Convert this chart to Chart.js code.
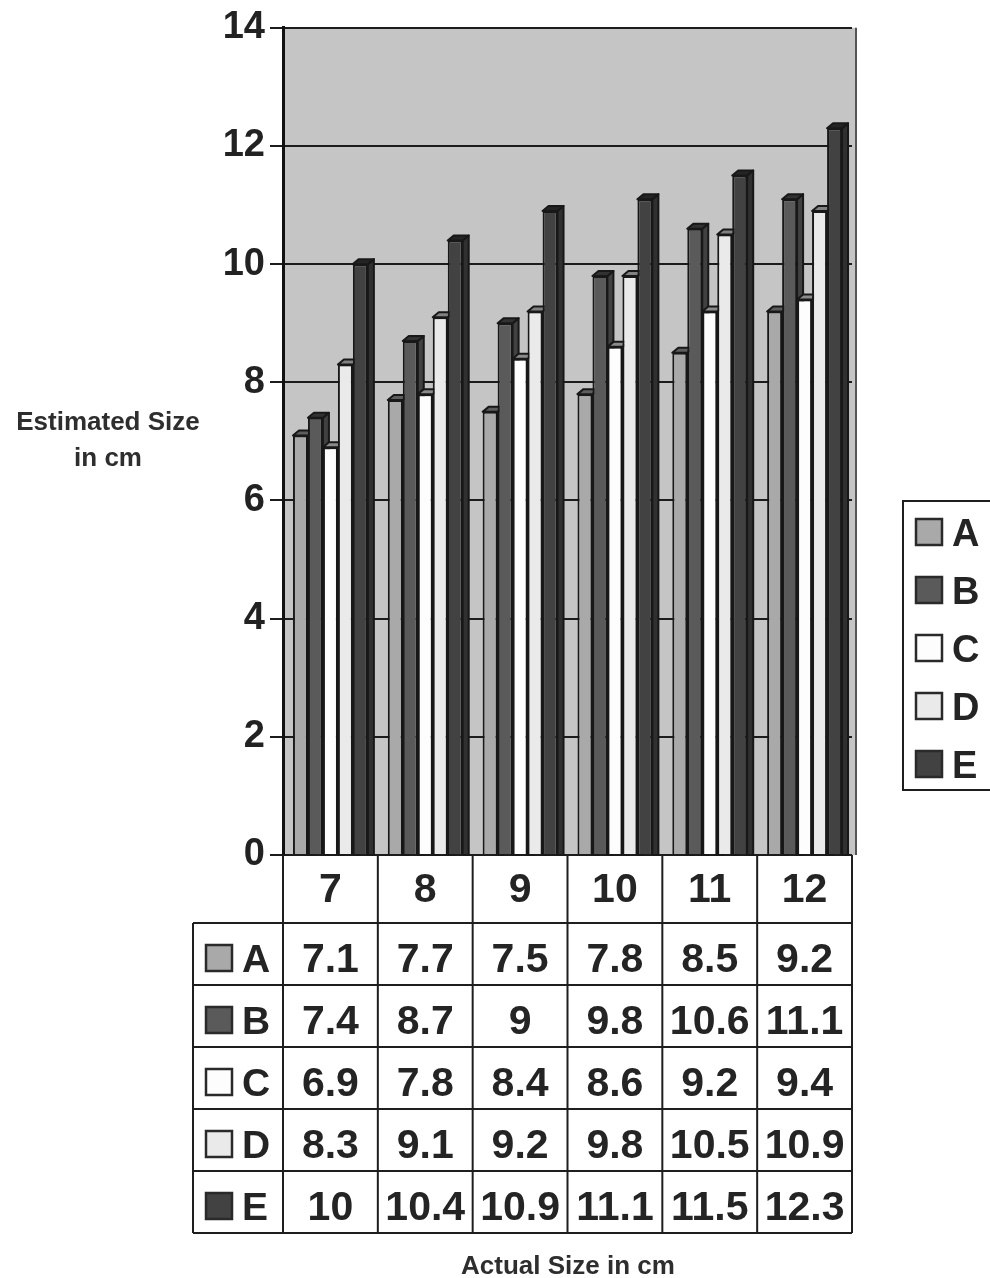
<!DOCTYPE html>
<html>
<head>
<meta charset="utf-8">
<script src="https://cdn.jsdelivr.net/npm/chart.js@4.4.1/dist/chart.umd.min.js"></script>
<style>
  html, body { margin: 0; padding: 0; background: #ffffff; }
  #wrap { width: 990px; height: 1278px; position: relative; }
</style>
</head>
<body>
<div id="wrap"><canvas id="chart" width="990" height="1278"></canvas></div>
<script>
// Actual sizes (cm) along the x axis
const categories = ['7', '8', '9', '10', '11', '12'];
// Series names
const seriesNames = ['A', 'B', 'C', 'D', 'E'];
// Estimated sizes (cm) per series
const seriesA = [7.1, 7.7, 7.5, 7.8, 8.5, 9.2];
const seriesB = [7.4, 8.7, 9, 9.8, 10.6, 11.1];
const seriesC = [6.9, 7.8, 8.4, 8.6, 9.2, 9.4];
const seriesD = [8.3, 9.1, 9.2, 9.8, 10.5, 10.9];
const seriesE = [10, 10.4, 10.9, 11.1, 11.5, 12.3];
// Value axis range
const yMin = 0, yMax = 14, yStep = 2;

const seriesValues = [seriesA, seriesB, seriesC, seriesD, seriesE];
const seriesColors = ['#a9a9a9', '#5a5a5a', '#fdfdfd', '#eaeaea', '#424242'];
const FONT = '"Liberation Sans", Arial, Helvetica, sans-serif';
const INK = '#242424';

function shade(hex, f) {
  const n = parseInt(hex.slice(1), 16);
  const r = Math.round(((n >> 16) & 255) * f);
  const g = Math.round(((n >> 8) & 255) * f);
  const b = Math.round((n & 255) * f);
  return `rgb(${r},${g},${b})`;
}

// Grey back wall behind the columns, plus the right edge of the wall
const wallPlugin = {
  id: 'wall',
  beforeDraw(chart) {
    const { ctx, chartArea: a } = chart;
    ctx.save();
    ctx.fillStyle = '#c5c5c5';
    ctx.fillRect(a.left, a.top, a.right - a.left + 4, a.bottom - a.top);
    ctx.strokeStyle = '#555';
    ctx.lineWidth = 2;
    ctx.beginPath();
    ctx.moveTo(a.right + 4, a.top);
    ctx.lineTo(a.right + 4, a.bottom);
    ctx.stroke();
    ctx.restore();
  }
};

// Columns are painted left series first, each with side and top faces,
// so every column hides the depth of the one on its left.
const DX = 6, DY = 5;
const columnPlugin = {
  id: 'columns3d',
  beforeDatasetDraw() { return false; },
  afterDatasetsDraw(chart) {
    const { ctx, chartArea } = chart;
    const base = chart.scales.y.getPixelForValue(0);
    ctx.save();
    for (let i = 0; i < chart.data.datasets.length; i++) {
      const meta = chart.getDatasetMeta(i);
      const color = chart.data.datasets[i].backgroundColor;
      meta.data.forEach(bar => {
        bar.draw(ctx, chartArea);
        const { x, y, width } = bar.getProps(['x', 'y', 'width'], true);
        const l = x - width / 2, r = x + width / 2;
        ctx.lineWidth = 2;
        ctx.strokeStyle = '#181818';
        ctx.lineJoin = 'round';
        // side face
        ctx.beginPath();
        ctx.moveTo(r, y);
        ctx.lineTo(r + DX, y - DY);
        ctx.lineTo(r + DX, base);
        ctx.lineTo(r, base);
        ctx.closePath();
        ctx.fillStyle = shade(color, 0.72);
        ctx.fill();
        ctx.stroke();
        // top face
        ctx.beginPath();
        ctx.moveTo(l, y);
        ctx.lineTo(l + DX, y - DY);
        ctx.lineTo(r + DX, y - DY);
        ctx.lineTo(r, y);
        ctx.closePath();
        ctx.fillStyle = shade(color, 0.55);
        ctx.fill();
        ctx.stroke();
      });
    }
    ctx.restore();
  }
};

function swatch(ctx, x, cy, size, color) {
  ctx.fillStyle = color;
  ctx.fillRect(x, cy - size / 2, size, size);
  ctx.strokeStyle = '#2a2a2a';
  ctx.lineWidth = 2.5;
  ctx.strokeRect(x + 1, cy - size / 2 + 1, size - 2, size - 2);
}

// Data table under the plot, legend box and axis titles
const tablePlugin = {
  id: 'table',
  afterDraw(chart) {
    const { ctx, chartArea: a } = chart;
    const xs = chart.scales.x;
    const colW = (a.right - a.left) / categories.length;
    const top0 = a.bottom;
    const headH = 68, rowH = 62;
    const leftX = 193;
    const bottom = top0 + headH + rowH * seriesNames.length;

    ctx.save();
    ctx.strokeStyle = '#1e1e1e';
    ctx.lineWidth = 2;
    ctx.beginPath();
    // vertical column rules
    for (let i = 0; i <= categories.length; i++) {
      const x = a.left + i * colW;
      ctx.moveTo(x, top0);
      ctx.lineTo(x, bottom);
    }
    ctx.moveTo(leftX, top0 + headH);
    ctx.lineTo(leftX, bottom);
    // horizontal row rules
    for (let r = 0; r <= seriesNames.length; r++) {
      const y = top0 + headH + r * rowH;
      ctx.moveTo(leftX, y);
      ctx.lineTo(a.right, y);
    }
    ctx.stroke();

    ctx.fillStyle = INK;
    ctx.textAlign = 'center';
    ctx.textBaseline = 'alphabetic';
    ctx.font = `bold 41px ${FONT}`;
    categories.forEach((c, i) => {
      ctx.fillText(c, xs.getPixelForValue(i), top0 + 47);
    });
    seriesNames.forEach((name, r) => {
      const rt = top0 + headH + r * rowH;
      seriesValues[r].forEach((v, i) => {
        ctx.fillStyle = INK;
        ctx.textAlign = 'center';
        ctx.fillText(String(v), xs.getPixelForValue(i), rt + 49);
      });
      swatch(ctx, 205, rt + 35, 28, seriesColors[r]);
      ctx.fillStyle = INK;
      ctx.textAlign = 'left';
      ctx.font = `bold 39px ${FONT}`;
      ctx.fillText(name, 242, rt + 49);
      ctx.font = `bold 41px ${FONT}`;
    });

    // legend box on the right
    ctx.strokeStyle = '#1e1e1e';
    ctx.lineWidth = 2;
    ctx.strokeRect(903, 501, 100, 289);
    ctx.font = `bold 38px ${FONT}`;
    seriesNames.forEach((name, r) => {
      const cy = 532 + r * 58;
      swatch(ctx, 915, cy, 28, seriesColors[r]);
      ctx.fillStyle = INK;
      ctx.textAlign = 'left';
      ctx.fillText(name, 952, cy + 14);
    });

    // axis titles
    ctx.fillStyle = '#2e2e2e';
    ctx.textAlign = 'center';
    ctx.font = `bold 26px ${FONT}`;
    ctx.fillText('Estimated Size', 108, 430);
    ctx.fillText('in cm', 108, 466);
    ctx.fillText('Actual Size in cm', 568, 1274);
    ctx.restore();
  }
};

const datasets = seriesNames.map((name, i) => ({
  label: name,
  data: seriesValues[i],
  backgroundColor: seriesColors[i],
  borderColor: '#181818',
  borderWidth: 2,
  borderSkipped: 'bottom',
  categoryPercentage: 0.79,
  barPercentage: 1.0
}));

new Chart(document.getElementById('chart'), {
  type: 'bar',
  data: { labels: categories, datasets },
  options: {
    responsive: false,
    animation: false,
    devicePixelRatio: 1,
    layout: { padding: { left: 0, top: 25, right: 138, bottom: 423 } },
    plugins: { legend: { display: false }, tooltip: { enabled: false } },
    scales: {
      x: { display: false },
      y: {
        min: yMin,
        max: yMax,
        afterFit(scale) { scale.width = 283; },
        ticks: {
          stepSize: yStep,
          color: '#222',
          padding: 5,
          font: { family: FONT, size: 38, weight: 'bold' }
        },
        grid: { color: '#1c1c1c', lineWidth: 2, tickLength: 13, tickColor: '#1c1c1c' },
        border: { display: true, color: '#111', width: 3 }
      }
    }
  },
  plugins: [wallPlugin, columnPlugin, tablePlugin]
});
</script>
</body>
</html>
